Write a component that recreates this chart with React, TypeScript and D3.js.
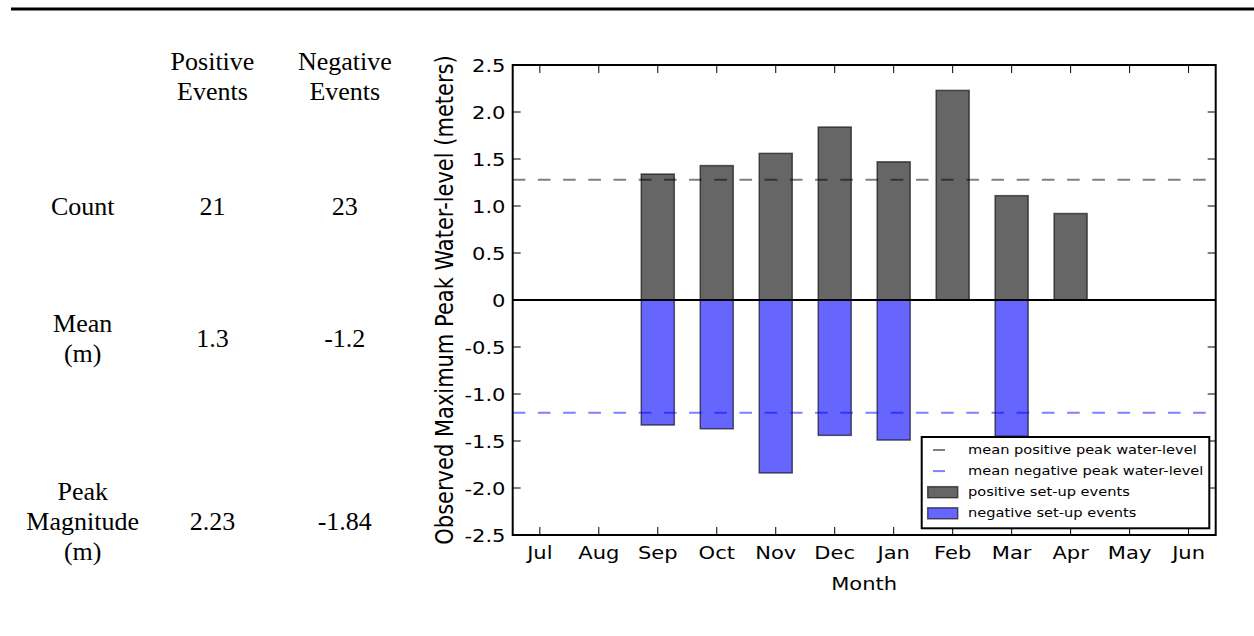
// Monthly peak water-level set-up events, with a summary table on the left
import * as d3 from 'd3';

// ── Data ─────────────────────────────────────────────
const MONTHS = ['Jul', 'Aug', 'Sep', 'Oct', 'Nov', 'Dec', 'Jan', 'Feb', 'Mar', 'Apr', 'May', 'Jun'];
const POSITIVE_PEAKS = [0, 0, 1.34, 1.43, 1.56, 1.84, 1.47, 2.23, 1.11, 0.92, 0, 0];
const NEGATIVE_PEAKS = [0, 0, -1.33, -1.37, -1.84, -1.44, -1.49, 0, -1.45, 0, 0, 0];
const MEAN_POSITIVE = 1.28;
const MEAN_NEGATIVE = -1.2;

const Y_TICKS = [-2.5, -2.0, -1.5, -1.0, -0.5, 0, 0.5, 1.0, 1.5, 2.0, 2.5];
const Y_TICK_LABELS = ['-2.5', '-2.0', '-1.5', '-1.0', '-0.5', '0', '0.5', '1.0', '1.5', '2.0', '2.5'];

const LEGEND_LABELS = [
  'mean positive peak water-level',
  'mean negative peak water-level',
  'positive set-up events',
  'negative set-up events',
];

// summary table
const COL_HEADERS = [['Positive', 'Events'], ['Negative', 'Events']];
const ROW_LABELS = [['Count'], ['Mean', '(m)'], ['Peak', 'Magnitude', '(m)']];
const POSITIVE_STATS = ['21', '1.3', '2.23'];
const NEGATIVE_STATS = ['23', '-1.2', '-1.84'];

// ── Layout ───────────────────────────────────────────
const W = 1254;
const H = 636;
const PLOT = { left: 512.7, right: 1215.7, top: 65, bottom: 535 };
const SANS = '"DejaVu Sans", sans-serif';
const SERIF = '"Liberation Serif", "Times New Roman", serif';
const STRETCH = 1.15; // figure text is slightly wide in the source
const BAR_W = 0.56;

const GRAY = '#000000';
const BLUE = '#0000ff';

function SText({ x, y, size, anchor = 'middle', rotate = 0, children }: any) {
  const t = `translate(${x},${y}) scale(${STRETCH},1)` + (rotate ? ` rotate(${rotate})` : '');
  return (
    <text transform={t} fontSize={size} fontFamily={SANS} textAnchor={anchor} fill="#000">
      {children}
    </text>
  );
}

export default function App() {
  const x = d3.scaleLinear().domain([0.54, 12.46]).range([PLOT.left, PLOT.right]);
  const y = d3.scaleLinear().domain([-2.5, 2.5]).range([PLOT.bottom, PLOT.top]);
  const months = MONTHS.map((m, i) => ({ m, pos: i + 1, p: POSITIVE_PEAKS[i], n: NEGATIVE_PEAKS[i] }));
  const bw = x(1 + BAR_W) - x(1);
  const tick = 8;

  const colX = [212.5, 344.8];
  const labelX = 82.7;
  const lineH = 30;
  const rowMid = [215, 346.7, 530];

  const legX = 921.7, legY = 437, legW = 287.6, legH = 91.3;
  const legBase = (i: number) => 454 + i * 21.1;

  return (
    <div style={{ position: 'absolute', left: 0, top: 0, width: W, height: H, background: '#fff' }}>
      <svg width={W} height={H} style={{ display: 'block' }}>
        <rect width={W} height={H} fill="#fff" />
        <line x1={11} x2={W} y1={9} y2={9} stroke="#000" strokeWidth={3} />

        {/* Table */}
        {COL_HEADERS.map((lines, c) =>
          lines.map((t, k) => (
            <text key={`h${c}${k}`} x={colX[c]} y={85 + (k - (lines.length - 1) / 2) * lineH}
              fontFamily={SERIF} fontSize={26} textAnchor="middle">{t}</text>
          ))
        )}
        {ROW_LABELS.map((lines, r) => (
          <g key={`r${r}`}>
            {lines.map((t, k) => (
              <text key={k} x={labelX} y={rowMid[r] + (k - (lines.length - 1) / 2) * lineH}
                fontFamily={SERIF} fontSize={26} textAnchor="middle">{t}</text>
            ))}
            <text x={colX[0]} y={rowMid[r]} fontFamily={SERIF} fontSize={26} textAnchor="middle">{POSITIVE_STATS[r]}</text>
            <text x={colX[1]} y={rowMid[r]} fontFamily={SERIF} fontSize={26} textAnchor="middle">{NEGATIVE_STATS[r]}</text>
          </g>
        ))}

        {/* Bars */}
        {months.map(d => d.p > 0 && (
          <rect key={`p${d.m}`} x={x(d.pos) - bw / 2} y={y(d.p)} width={bw} height={y(0) - y(d.p)}
            fill={GRAY} fillOpacity={0.6} stroke="#000" strokeOpacity={0.6} strokeWidth={1.5} />
        ))}
        {months.map(d => d.n < 0 && (
          <rect key={`n${d.m}`} x={x(d.pos) - bw / 2} y={y(0)} width={bw} height={y(d.n) - y(0)}
            fill={BLUE} fillOpacity={0.6} stroke="#000" strokeOpacity={0.6} strokeWidth={1.5} />
        ))}

        {/* Mean lines */}
        <line x1={PLOT.left} x2={PLOT.right} y1={y(MEAN_POSITIVE)} y2={y(MEAN_POSITIVE)}
          stroke={GRAY} strokeOpacity={0.5} strokeWidth={2} strokeDasharray="12.6 12.6" />
        <line x1={PLOT.left} x2={PLOT.right} y1={y(MEAN_NEGATIVE)} y2={y(MEAN_NEGATIVE)}
          stroke={BLUE} strokeOpacity={0.5} strokeWidth={2} strokeDasharray="12.6 12.6" />
        <line x1={PLOT.left} x2={PLOT.right} y1={y(0)} y2={y(0)} stroke="#000" strokeWidth={2} />

        {/* Ticks (inside, all four sides) */}
        {months.map(d => (
          <g key={`t${d.m}`} stroke="#000" strokeWidth={1}>
            <line x1={x(d.pos)} x2={x(d.pos)} y1={PLOT.bottom} y2={PLOT.bottom - tick} />
            <line x1={x(d.pos)} x2={x(d.pos)} y1={PLOT.top} y2={PLOT.top + tick} />
          </g>
        ))}
        {Y_TICKS.map(v => (
          <g key={`yt${v}`} stroke="#000" strokeWidth={1}>
            <line x1={PLOT.left} x2={PLOT.left + tick} y1={y(v)} y2={y(v)} />
            <line x1={PLOT.right} x2={PLOT.right - tick} y1={y(v)} y2={y(v)} />
          </g>
        ))}

        <rect x={PLOT.left} y={PLOT.top} width={PLOT.right - PLOT.left} height={PLOT.bottom - PLOT.top}
          fill="none" stroke="#000" strokeWidth={2} />

        {/* Tick labels */}
        {Y_TICKS.map((v, i) => (
          <SText key={`yl${v}`} x={505.5} y={y(v) + 6.6} size={18.3} anchor="end">{Y_TICK_LABELS[i]}</SText>
        ))}
        {months.map(d => (
          <SText key={`xl${d.m}`} x={x(d.pos)} y={559.3} size={18.3}>{d.m}</SText>
        ))}
        <SText x={(PLOT.left + PLOT.right) / 2} y={590} size={18.3}>Month</SText>
        <SText x={453} y={300} size={21} rotate={-90}>Observed Maximum Peak Water-level (meters)</SText>

        {/* Legend */}
        <rect x={legX} y={legY} width={legW} height={legH} fill="#fff" stroke="#000" strokeWidth={2} />
        <line x1={933} x2={945} y1={legBase(0) - 4} y2={legBase(0) - 4} stroke={GRAY} strokeOpacity={0.5} strokeWidth={2} />
        <line x1={933} x2={945} y1={legBase(1) - 4} y2={legBase(1) - 4} stroke={BLUE} strokeOpacity={0.5} strokeWidth={2} />
        <rect x={927.7} y={legBase(2) - 9.5} width={30} height={11} fill={GRAY} fillOpacity={0.6}
          stroke="#000" strokeOpacity={0.6} strokeWidth={1.5} />
        <rect x={927.7} y={legBase(3) - 9.5} width={30} height={11} fill={BLUE} fillOpacity={0.6}
          stroke="#000" strokeOpacity={0.6} strokeWidth={1.5} />
        {LEGEND_LABELS.map((t, i) => (
          <SText key={t} x={968} y={legBase(i)} size={12.7} anchor="start">{t}</SText>
        ))}
      </svg>
    </div>
  );
}
